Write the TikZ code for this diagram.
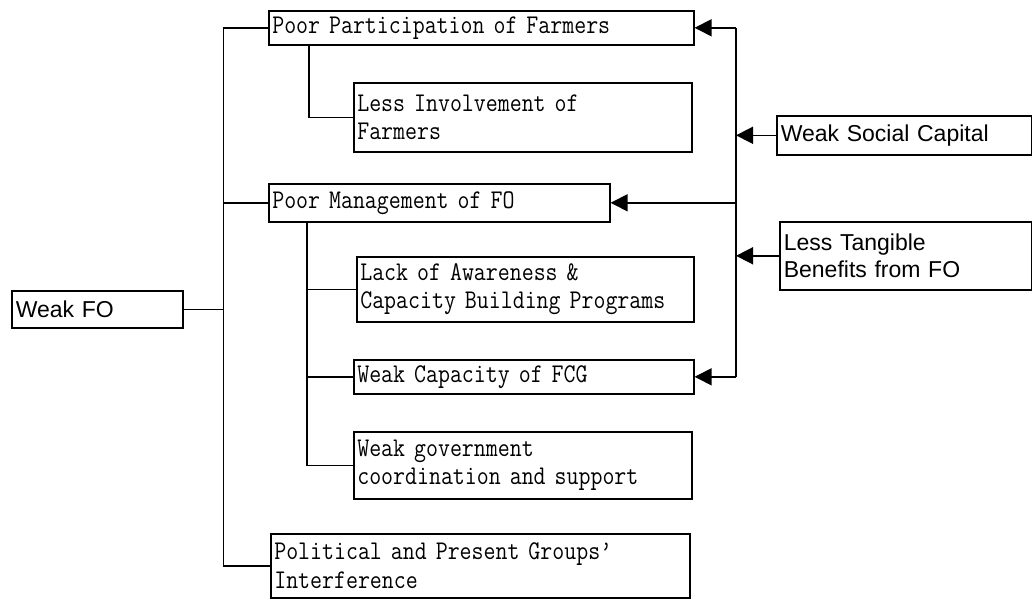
\documentclass[tikz,border=0pt]{standalone}
\usepackage{fontspec}
\usetikzlibrary{arrows.meta}
\newfontfamily\boxmono[FakeStretch=0.86]{Latin Modern Mono}
\newfontfamily\boxsans{Liberation Sans}
\begin{document}
\begin{tikzpicture}[x=1pt,y=-1pt,
  line width=1.6pt,
  cbox/.style={draw, anchor=north west, inner xsep=3.5pt, inner ysep=0pt,
    align=left, font=\boxmono\fontsize{27}{28.3}\selectfont},
  sbox/.style={draw, anchor=north west, inner xsep=4pt, inner ysep=0pt,
    align=left, font=\boxsans\fontsize{23}{27.7}\selectfont},
  arr/.style={-{Triangle[length=17pt,width=17pt]}}]
\useasboundingbox (0,0) rectangle (1032,598);

% cause boxes (left column tree)
\node[cbox, minimum width=425pt, minimum height=34pt, text width=418pt] (ppf) at (268,10) {Poor Participation of Farmers};
\node[cbox, minimum width=338pt, minimum height=69pt, text width=331pt] (lif) at (353,82) {Less Involvement of\\Farmers};
\node[cbox, minimum width=341pt, minimum height=38pt, text width=334pt] (pmf) at (268,183) {Poor Management of FO};
\node[cbox, minimum width=337pt, minimum height=65pt, text width=330pt] (lac) at (356,256) {Lack of Awareness \&\\Capacity Building Programs};
\node[cbox, minimum width=340pt, minimum height=34pt, text width=333pt] (fcg) at (353,359) {Weak Capacity of FCG};
\node[cbox, minimum width=338pt, minimum height=67pt, text width=331pt] (wgc) at (353,431) {Weak government\\coordination and support};
\node[cbox, minimum width=419pt, minimum height=64pt, text width=412pt] (pol) at (270,533) {Political and Present Groups’\\Interference};

% root and external factors
\node[sbox, minimum width=171pt, minimum height=37pt, text width=163pt] (wfo) at (11,290) {Weak FO};
\node[sbox, minimum width=255pt, minimum height=39pt, text width=247pt] (wsc) at (776,115) {Weak Social Capital};
\node[sbox, minimum width=252pt, minimum height=68pt, text width=244pt] (ltb) at (779,221) {Less Tangible\\Benefits from FO};

% vertical guide lines
\coordinate (trunk) at (223.5,0);
\coordinate (subA) at (309,0);
\coordinate (subB) at (307,0);
\coordinate (rail) at (736,0);

% main trunk from Weak FO
\draw (wfo.east) -- (wfo.east -| trunk);
\draw (ppf.west) -- (ppf.west -| trunk) -- (pol.west -| trunk) -- (pol.west);
\draw (pmf.west) -- (pmf.west -| trunk);

% sub-causes
\draw (ppf.south -| subA) |- (lif.west);
\draw (pmf.south -| subB) -- (wgc.west -| subB) -- (wgc.west);
\draw (lac.west -| subB) -- (lac.west);
\draw (fcg.west -| subB) -- (fcg.west);

% influence rail on the right
\draw (ppf.east -| rail) -- (fcg.east -| rail);
\draw[arr] (ppf.east -| rail) -- (ppf.east);
\draw[arr] (pmf.east -| rail) -- (pmf.east);
\draw[arr] (fcg.east -| rail) -- (fcg.east);
\draw[arr] (wsc.west) -- (wsc.west -| rail);
\draw[arr] (ltb.west) -- (ltb.west -| rail);
\end{tikzpicture}
\end{document}
